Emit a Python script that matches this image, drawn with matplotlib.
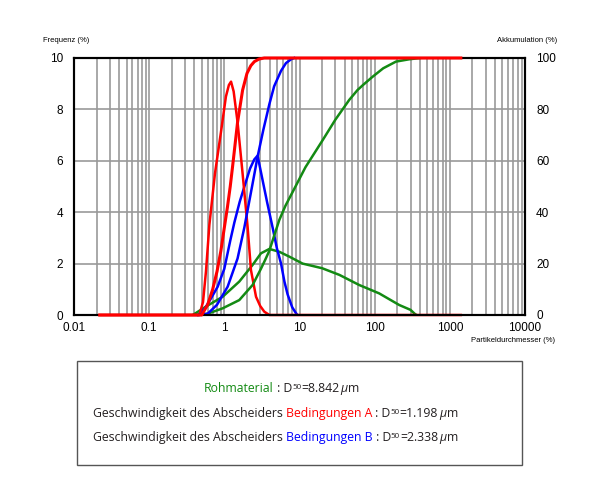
import numpy as np
import matplotlib.pyplot as plt
from matplotlib.patches import Rectangle
from matplotlib.ticker import FixedLocator, NullFormatter

# Rohmaterial (gruen)
roh_freq_x = [0.38, 0.43, 0.57, 0.95, 1.58, 2.38, 3.07, 3.97, 5.39, 7.33, 11.0, 20.0, 34.0, 62.0, 115.0, 212.0, 300.0, 340.0, 360.0]
roh_freq_y = [0.0, 0.1, 0.33, 0.71, 1.3, 1.95, 2.4, 2.57, 2.46, 2.27, 2.0, 1.82, 1.56, 1.17, 0.84, 0.39, 0.2, 0.05, 0.0]
roh_cum_x = [0.42, 0.6, 0.95, 1.58, 2.38, 3.07, 3.5, 3.97, 4.62, 5.39, 6.5, 8.842, 12.0, 20.3, 30.0, 45.9, 59.0, 70.0, 93.8, 130.0, 192.0, 288.0, 400.0]
roh_cum_y = [0.0, 0.5, 2.6, 5.8, 11.7, 18.0, 21.5, 25.0, 31.0, 37.0, 42.5, 50.0, 57.5, 68.0, 76.0, 83.7, 87.5, 89.5, 92.7, 96.0, 98.6, 99.5, 100.0]

# Bedingungen A (rot)
a_freq_x = [0.022, 0.465, 0.52, 0.57, 0.632, 0.75, 0.9, 1.05, 1.15, 1.228, 1.33, 1.5, 1.75, 2.04, 2.26, 2.64, 3.0, 3.4, 3.97, 1400.0]
a_freq_y = [0.0, 0.0, 0.5, 1.7, 3.5, 5.5, 7.1, 8.5, 8.95, 9.08, 8.7, 7.5, 5.5, 3.43, 1.75, 0.71, 0.35, 0.13, 0.0, 0.0]
a_cum_x = [0.022, 0.5, 0.6, 0.7, 0.8, 0.9, 1.0, 1.1, 1.198, 1.29, 1.5, 1.75, 2.0, 2.25, 2.51, 2.9, 3.4, 1400.0]
a_cum_y = [0.0, 0.0, 4.0, 10.0, 17.0, 25.0, 34.0, 42.0, 50.0, 58.0, 75.0, 87.5, 94.0, 97.0, 98.6, 99.6, 100.0, 100.0]

# Bedingungen B (blau)
b_freq_x = [0.45, 0.55, 0.65, 0.815, 1.0, 1.2, 1.36, 1.6, 1.85, 2.2, 2.5, 2.77, 3.2, 3.7, 4.39, 5.0, 5.68, 6.3, 6.95, 8.0, 8.98, 9.4]
b_freq_y = [0.0, 0.25, 0.6, 1.1, 1.8, 2.9, 3.6, 4.4, 5.0, 5.7, 6.05, 6.2, 5.3, 4.4, 3.4, 2.6, 2.0, 1.3, 0.8, 0.3, 0.07, 0.0]
b_cum_x = [0.45, 0.6, 0.8, 1.106, 1.5, 1.845, 2.338, 2.77, 3.3, 3.97, 4.6, 5.68, 6.6, 7.71, 8.5]
b_cum_y = [0.0, 0.5, 4.0, 11.0, 22.0, 34.0, 50.0, 61.6, 72.0, 82.0, 89.0, 95.0, 98.0, 99.5, 100.0]

x_ticks = [0.01, 0.1, 1, 10, 100, 1000, 10000]
x_labels = ['0.01', '0.1', '1', '10', '100', '1000', '10000']
freq_ticks = [0, 2, 4, 6, 8, 10]
cum_ticks = [0, 20, 40, 60, 80, 100]

GREEN = '#138a13'
RED = '#ff0000'
BLUE = '#0000ff'
DARK = '#231f20'
W, H = 600, 483

plt.rcParams['font.family'] = ['Liberation Sans', 'DejaVu Sans']

fig = plt.figure(figsize=(6, 4.83), dpi=100)
ax = fig.add_axes([74 / W, 1 - 315 / H, (525 - 74) / W, (315 - 58) / H])
ax.set_xscale('log')
ax.set_xlim(0.01, 10000)
ax.set_ylim(0, 10)
ax.xaxis.set_major_locator(FixedLocator(x_ticks))
ax.xaxis.set_minor_locator(FixedLocator([m * 10.0 ** e for e in range(-2, 4) for m in range(2, 10)]))
ax.xaxis.set_minor_formatter(NullFormatter())
ax.set_xticklabels(x_labels)
ax.set_yticks(freq_ticks)
ax.grid(True, which='both', axis='x', color='#999999', lw=1.2)
ax.grid(True, which='major', axis='y', color='#999999', lw=1.2)
ax.set_axisbelow(True)
ax.tick_params(which='both', length=0, labelsize=8.5, colors='black')
ax.tick_params(axis='x', pad=5)
ax.tick_params(axis='y', pad=8)
for s in ax.spines.values():
    s.set_linewidth(1.5)
    s.set_color('black')

ax2 = ax.twinx()
ax2.set_ylim(0, 100)
ax2.set_yticks(cum_ticks)
ax2.tick_params(length=0, labelsize=8.5, pad=8)
for s in ax2.spines.values():
    s.set_linewidth(1.5)

lw = 1.8
ax.plot(roh_freq_x, roh_freq_y, color=GREEN, lw=lw, solid_joinstyle='round')
ax.plot(b_freq_x, b_freq_y, color=BLUE, lw=lw, solid_joinstyle='round')
ax.plot(a_freq_x, a_freq_y, color=RED, lw=lw, solid_joinstyle='round', clip_on=False)
ax2.plot(roh_cum_x, roh_cum_y, color=GREEN, lw=lw, solid_joinstyle='round')
ax2.plot(b_cum_x, b_cum_y, color=BLUE, lw=lw, solid_joinstyle='round', clip_on=False)
ax2.plot(a_cum_x, a_cum_y, color=RED, lw=lw + 0.4, solid_joinstyle='round', clip_on=False, zorder=5)

fig.text(43 / W, 1 - 40 / H, 'Frequenz (%)', fontsize=5.5, va='center', ha='left')
fig.text(557 / W, 1 - 40 / H, 'Akkumulation (%)', fontsize=5.5, va='center', ha='right')
fig.text(555 / W, 1 - 341 / H, 'Partikeldurchmesser (%)', fontsize=5.5, va='center', ha='right')

# Legende unten
fig.patches.append(Rectangle((77 / W, 1 - 465 / H), 445 / W, (465 - 361) / H,
                             transform=fig.transFigure, fill=False, edgecolor='#555555', lw=1.0))

renderer = fig.canvas.get_renderer()
LFONT = ['Open Sans', 'DejaVu Sans']
FS = 8.8


def write_line(x, y, parts):
    for s, col, size, dy, style, gap in parts:
        t = fig.text(x / W, 1 - (y - dy) / H, s, color=col, fontsize=size,
                     family=LFONT, style=style, va='baseline', ha='left')
        x = t.get_window_extent(renderer=renderer).x1 + gap


def d50_parts(name, col, value, prefix=None):
    parts = []
    if prefix:
        parts.append((prefix, DARK, FS, 0, 'normal', 0))
    parts += [(name, col, FS, 0, 'normal', 0),
              (' : D', DARK, FS, 0, 'normal', 0),
              ('50', DARK, 5.8, 3, 'normal', 0),
              ('=' + value, DARK, FS, 0, 'normal', 1),
              ('μ', DARK, FS, 0, 'italic', 1),
              ('m', DARK, FS, 0, 'normal', 0)]
    return parts


write_line(204, 392, d50_parts('Rohmaterial', GREEN, '8.842'))
write_line(93, 417, d50_parts('Bedingungen A', RED, '1.198', 'Geschwindigkeit des Abscheiders '))
write_line(93, 441, d50_parts('Bedingungen B', BLUE, '2.338', 'Geschwindigkeit des Abscheiders '))

fig.savefig('out.png', dpi=100)
